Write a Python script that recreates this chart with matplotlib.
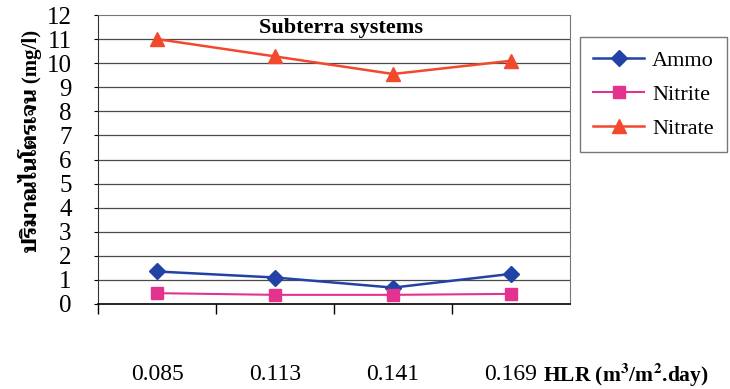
import matplotlib
matplotlib.use("Agg")
import matplotlib.pyplot as plt
import numpy as np

# data
hlr = ["0.085", "0.113", "0.141", "0.169"]
ammo = [1.35, 1.10, 0.68, 1.25]
nitrite = [0.45, 0.38, 0.38, 0.42]
nitrate = [11.0, 10.28, 9.55, 10.1]

plt.rcParams["font.family"] = ["Liberation Serif", "Taviraj"]
plt.rcParams["mathtext.fontset"] = "stix"

fig = plt.figure(figsize=(7.3, 3.89), dpi=100)
ax = fig.add_axes([98 / 730, 85 / 389, 472 / 730, 289 / 389])

x = np.arange(len(hlr))
ax.plot(x, ammo, color="#2342a6", lw=1.8, marker="D", ms=8, label="Ammo", zorder=3)
ax.plot(x, nitrite, color="#e4338f", lw=1.5, marker="s", ms=8, label="Nitrite", zorder=3)
ax.plot(x, nitrate, color="#f2482c", lw=1.8, marker="^", ms=10, label="Nitrate", zorder=3)

ax.set_xlim(-0.5, len(hlr) - 0.5)
ax.set_ylim(0, 12)
ax.set_yticks(range(0, 13))
ax.tick_params(axis="y", labelsize=18, length=3, pad=16, direction="out")

# category labels far below, boundary ticks on the axis
ax.set_xticks(x)
ax.set_xticklabels(hlr)
ax.tick_params(axis="x", which="major", length=0, pad=43, labelsize=17)
ax.set_xticks(np.arange(-0.5, len(hlr) - 1), minor=True)
ax.tick_params(axis="x", which="minor", length=7, width=1, direction="out")

for yv in range(1, 12):
    ax.axhline(yv, color="#4a4a4a", lw=0.9, zorder=1)

ax.spines["top"].set_linestyle((0, (2, 1)))
ax.spines["top"].set_color("#777777")
ax.spines["right"].set_linestyle((0, (2, 1)))
ax.spines["right"].set_color("#777777")
ax.spines["left"].set_color("#333333")
ax.spines["bottom"].set_linewidth(1.2)

ax.text(0.515, 0.955, "Subterra systems", transform=ax.transAxes, ha="center", va="center",
        fontsize=16, fontweight="bold")

fig.text(30 / 730, 1 - 141 / 389, "ปริมาณไนโตรเจน (mg/l)", rotation=90, ha="center",
         va="center", fontsize=15, fontweight="bold")

fig.text(543 / 730, 1 - 375 / 389, r"HLR (m$^\mathbf{3}$/m$^\mathbf{2}$.day)", ha="left",
         va="center", fontsize=15.5, fontweight="bold")

leg = fig.legend(loc="upper left", bbox_to_anchor=(580 / 730, 1 - 37 / 389), fontsize=16,
                 frameon=True, fancybox=False, edgecolor="#555555", handlelength=2.3,
                 borderpad=0.6, labelspacing=0.6, handletextpad=0.35, borderaxespad=0)
leg.get_frame().set_linewidth(1.0)

fig.savefig("out.png", dpi=100)
